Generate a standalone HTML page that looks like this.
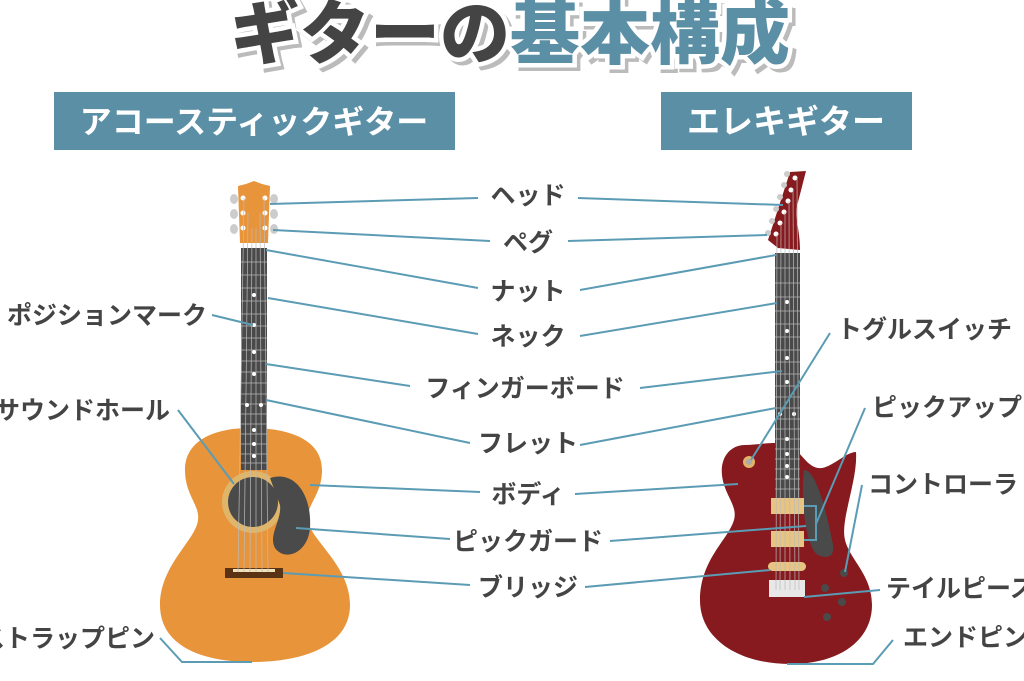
<!DOCTYPE html>
<html><head><meta charset="utf-8"><style>
html,body{margin:0;padding:0;background:#fff;overflow:hidden}
svg{display:block}
text{font-family:"Liberation Sans","Noto Sans CJK JP",sans-serif;font-weight:bold}
.lb{font-size:25px;fill:#444}
.ln{stroke:#5b9cb4;stroke-width:2;fill:none}
</style></head><body>
<svg width="1024" height="681" viewBox="0 0 1024 681" xmlns="http://www.w3.org/2000/svg">
<!-- title -->
<g font-size="70" text-anchor="middle">
<text x="514" y="62" fill="#bbb" stroke="#bbb" stroke-width="8" style="font-family:'Liberation Sans','Noto Sans CJK JP',sans-serif;font-weight:900">ギターの基本構成</text>
<text x="510" y="58" fill="#fff" stroke="#fff" stroke-width="9" style="font-family:'Liberation Sans','Noto Sans CJK JP',sans-serif;font-weight:900">ギターの基本構成</text>
<text x="510" y="58" style="font-family:'Liberation Sans','Noto Sans CJK JP',sans-serif;font-weight:900"><tspan fill="#444">ギターの</tspan><tspan fill="#5a8fa6">基本構成</tspan></text>
</g>
<rect x="54" y="92" width="401" height="58" fill="#5b8fa5"/>
<text x="254" y="133" font-size="32" fill="#fff" text-anchor="middle">アコースティックギター</text>
<rect x="661" y="92" width="251" height="58" fill="#5b8fa5"/>
<text x="786" y="133" font-size="33" fill="#fff" text-anchor="middle">エレキギター</text>

<!-- acoustic guitar -->
<path d="M250 428 C215 428 185 440 185 470 C185 495 200 505 198 520 C196 540 160 565 160 605 C160 645 200 662 252 662 C305 662 350 645 350 605 C350 565 310 540 308 520 C306 505 322 495 322 470 C322 440 290 428 250 428Z" fill="#e8943a"/>
<circle cx="253" cy="502" r="31" fill="#dfb56a"/>
<circle cx="253" cy="502" r="25" fill="#4a4a4a"/>
<path d="M270 478 C295 470 312 495 310 528 C308 553 285 562 275 548 C268 535 282 520 280 505Z" fill="#4a4a4a"/>
<rect x="225" y="568" width="58" height="10" fill="#5a3214"/>
<rect x="233" y="569" width="42" height="3" fill="#f3e1b8"/>
<path d="M238 186 L246 184 L254 181 L262 184 L270 186 L268 243 L240 243Z" fill="#e8943a"/>
<g fill="#ccc"><ellipse cx="234" cy="199" rx="4" ry="5"/><ellipse cx="234" cy="214" rx="4" ry="5"/><ellipse cx="234" cy="229" rx="4" ry="5"/><ellipse cx="274" cy="199" rx="4" ry="5"/><ellipse cx="274" cy="214" rx="4" ry="5"/><ellipse cx="274" cy="229" rx="4" ry="5"/></g>
<g fill="#fff"><circle cx="243" cy="198" r="2.5"/><circle cx="243" cy="213" r="2.5"/><circle cx="243" cy="228" r="2.5"/><circle cx="265" cy="198" r="2.5"/><circle cx="265" cy="213" r="2.5"/><circle cx="265" cy="228" r="2.5"/></g>
<rect x="241" y="248" width="26" height="222" fill="#4a4a4a"/>
<g stroke="#999" stroke-width="1">
<line x1="241" y1="262" x2="267" y2="262"/><line x1="241" y1="275" x2="267" y2="275"/><line x1="241" y1="288" x2="267" y2="288"/><line x1="241" y1="301" x2="267" y2="301"/><line x1="241" y1="314" x2="267" y2="314"/><line x1="241" y1="326" x2="267" y2="326"/><line x1="241" y1="338" x2="267" y2="338"/><line x1="241" y1="350" x2="267" y2="350"/><line x1="241" y1="361" x2="267" y2="361"/><line x1="241" y1="372" x2="267" y2="372"/><line x1="241" y1="383" x2="267" y2="383"/><line x1="241" y1="394" x2="267" y2="394"/><line x1="241" y1="404" x2="267" y2="404"/><line x1="241" y1="414" x2="267" y2="414"/><line x1="241" y1="424" x2="267" y2="424"/><line x1="241" y1="434" x2="267" y2="434"/><line x1="241" y1="444" x2="267" y2="444"/><line x1="241" y1="454" x2="267" y2="454"/><line x1="241" y1="463" x2="267" y2="463"/>
</g>
<g stroke="#bbb" stroke-width="0.7"><line x1="244" y1="198" x2="238" y2="572"/><line x1="248" y1="213" x2="244" y2="572"/><line x1="252" y1="228" x2="250" y2="572"/><line x1="256" y1="228" x2="256" y2="572"/><line x1="260" y1="213" x2="262" y2="572"/><line x1="264" y1="198" x2="268" y2="572"/></g>
<g fill="#fff"><circle cx="254" cy="295" r="2"/><circle cx="254" cy="325" r="2"/><circle cx="254" cy="352" r="2"/><circle cx="254" cy="374" r="2"/><circle cx="247" cy="405" r="2"/><circle cx="261" cy="405" r="2"/><circle cx="254" cy="430" r="2"/><circle cx="254" cy="444" r="2"/><circle cx="254" cy="456" r="2"/></g>

<!-- electric guitar -->
<path d="M745 445 C730 445 720 458 722 475 C724 495 738 505 734 520 C728 540 700 560 700 600 C700 640 740 664 790 664 C840 664 872 640 872 605 C872 575 850 560 845 540 C840 520 858 480 856 452 C845 452 830 470 818 468 C806 466 800 450 790 446 C775 440 760 445 745 445Z" fill="#861a1e"/>
<path d="M804 470 C816 470 826 510 832 540 C836 555 830 560 818 555 C806 548 800 500 804 470Z" fill="#4a4a4a"/>
<path d="M778 248 L768 240 L790 172 L806 171 L797 206 C795 220 800 230 800 250Z" fill="#861a1e"/>
<g fill="#ccc"><circle cx="787" cy="174" r="3"/><circle cx="784" cy="185" r="3"/><circle cx="780" cy="197" r="3"/><circle cx="776" cy="209" r="3"/><circle cx="772" cy="221" r="3"/><circle cx="768" cy="233" r="3"/></g>
<g fill="#fff"><circle cx="795" cy="178" r="2.5"/><circle cx="791" cy="190" r="2.5"/><circle cx="788" cy="201" r="2.5"/><circle cx="784" cy="212" r="2.5"/><circle cx="780" cy="223" r="2.5"/><circle cx="776" cy="234" r="2.5"/></g>
<rect x="775" y="253" width="25" height="248" fill="#4a4a4a"/>
<g stroke="#999" stroke-width="1">
<line x1="775" y1="268" x2="800" y2="268"/><line x1="775" y1="283" x2="800" y2="283"/><line x1="775" y1="297" x2="800" y2="297"/><line x1="775" y1="311" x2="800" y2="311"/><line x1="775" y1="324" x2="800" y2="324"/><line x1="775" y1="337" x2="800" y2="337"/><line x1="775" y1="350" x2="800" y2="350"/><line x1="775" y1="362" x2="800" y2="362"/><line x1="775" y1="374" x2="800" y2="374"/><line x1="775" y1="386" x2="800" y2="386"/><line x1="775" y1="397" x2="800" y2="397"/><line x1="775" y1="408" x2="800" y2="408"/><line x1="775" y1="419" x2="800" y2="419"/><line x1="775" y1="429" x2="800" y2="429"/><line x1="775" y1="439" x2="800" y2="439"/><line x1="775" y1="449" x2="800" y2="449"/><line x1="775" y1="459" x2="800" y2="459"/><line x1="775" y1="469" x2="800" y2="469"/><line x1="775" y1="479" x2="800" y2="479"/><line x1="775" y1="489" x2="800" y2="489"/>
</g>
<g fill="#fff"><circle cx="787" cy="302" r="2"/><circle cx="787" cy="331" r="2"/><circle cx="787" cy="358" r="2"/><circle cx="787" cy="382" r="2"/><circle cx="780" cy="414" r="2"/><circle cx="794" cy="414" r="2"/><circle cx="787" cy="439" r="2"/><circle cx="787" cy="454" r="2"/><circle cx="787" cy="466" r="2"/><circle cx="787" cy="477" r="2"/></g>
<rect x="771" y="498" width="33" height="16" fill="#e8c482"/>
<rect x="771" y="531" width="33" height="16" fill="#e8c482"/>
<rect x="768" y="562" width="38" height="9" rx="4.5" fill="#e8c482"/>
<rect x="769" y="580" width="36" height="17" fill="#e8e8e8"/>
<g stroke="#bbb" stroke-width="0.7"><line x1="777" y1="234" x2="776" y2="590"/><line x1="781" y1="223" x2="780" y2="590"/><line x1="785" y1="212" x2="785" y2="590"/><line x1="789" y1="201" x2="790" y2="590"/><line x1="793" y1="190" x2="795" y2="590"/><line x1="797" y1="178" x2="799" y2="590"/></g>
<circle cx="749" cy="462" r="6" fill="#e0b36a"/><circle cx="749" cy="462" r="3" fill="#aaa"/>
<g fill="#4a4a4a"><circle cx="844" cy="573" r="4"/><circle cx="825" cy="588" r="4"/><circle cx="842" cy="602" r="4"/><circle cx="827" cy="617" r="4"/></g>

<!-- connector lines -->
<g class="ln">
<line x1="270" y1="204" x2="478" y2="198"/><line x1="578" y1="198" x2="783" y2="205"/>
<line x1="273" y1="230" x2="490" y2="241"/><line x1="568" y1="241" x2="767" y2="235"/>
<line x1="266" y1="250" x2="478" y2="288"/><line x1="580" y1="290" x2="776" y2="255"/>
<line x1="268" y1="298" x2="478" y2="334"/><line x1="580" y1="336" x2="777" y2="303"/>
<line x1="266" y1="364" x2="410" y2="386"/><line x1="640" y1="388" x2="782" y2="371"/>
<line x1="266" y1="400" x2="470" y2="443"/><line x1="580" y1="445" x2="776" y2="408"/>
<line x1="310" y1="485" x2="480" y2="492"/><line x1="575" y1="494" x2="738" y2="484"/>
<line x1="296" y1="528" x2="450" y2="539"/><line x1="610" y1="541" x2="806" y2="526"/>
<line x1="283" y1="573" x2="470" y2="585"/><line x1="585" y1="587" x2="770" y2="570"/>
<line x1="212" y1="315" x2="253" y2="325"/>
<line x1="178" y1="410" x2="234" y2="484"/>
<polyline points="160,638 182,662 252,662"/>
<line x1="830" y1="333" x2="751" y2="460"/>
<polyline points="804,506 816,506 816,540 804,540"/>
<line x1="816" y1="524" x2="865" y2="408"/>
<line x1="862" y1="485" x2="845" y2="572"/>
<line x1="804" y1="597" x2="880" y2="590"/>
<polyline points="787,664 873,664 893,640"/>
</g>

<!-- labels -->
<g class="lb">
<text x="528" y="204" text-anchor="middle">ヘッド</text>
<text x="528" y="251" text-anchor="middle">ペグ</text>
<text x="528" y="300" text-anchor="middle">ナット</text>
<text x="528" y="345" text-anchor="middle">ネック</text>
<text x="525" y="397" text-anchor="middle">フィンガーボード</text>
<text x="528" y="452" text-anchor="middle">フレット</text>
<text x="528" y="503" text-anchor="middle">ボディ</text>
<text x="528" y="550" text-anchor="middle">ピックガード</text>
<text x="528" y="596" text-anchor="middle">ブリッジ</text>
<text x="7" y="324">ポジションマーク</text>
<text x="170" y="419" text-anchor="end">サウンドホール</text>
<text x="155" y="647" text-anchor="end">ストラップピン</text>
<text x="837" y="338">トグルスイッチ</text>
<text x="872" y="416">ピックアップ</text>
<text x="868" y="493">コントローラ</text>
<text x="886" y="597">テイルピース</text>
<text x="903" y="646">エンドピン</text>
</g>
</svg>
</body></html>
